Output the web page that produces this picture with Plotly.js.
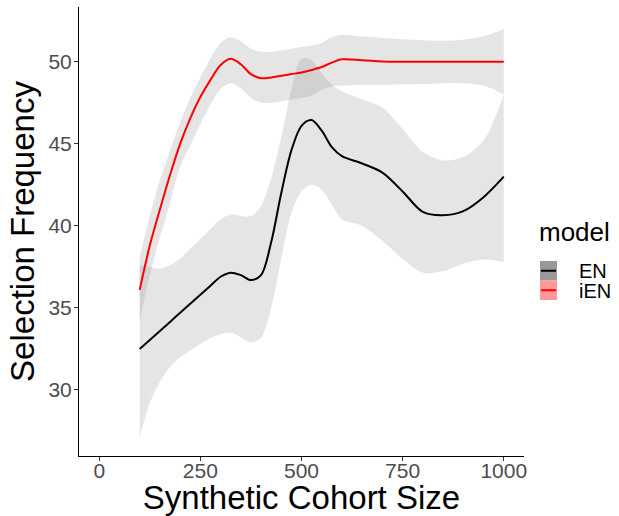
<!DOCTYPE html>
<html>
<head>
<meta charset="utf-8">
<script src="https://cdn.plot.ly/plotly-3.0.1.min.js"></script>
<style>
  html, body { margin: 0; padding: 0; background: #fff; }
  #chart { width: 619px; height: 516px; }
</style>
</head>
<body>
<div id="chart"></div>
<script>
// Synthetic cohort sizes at which the smoothed fits are evaluated
const cohortSize = [100, 125, 150, 175, 200, 225, 250, 275, 300, 325, 350, 375, 400, 425, 450,
                    475, 500, 525, 550, 575, 600, 650, 700, 750, 800, 850, 900, 950, 1000];

// EN: smoothed selection frequency with confidence band
const enFit = [32.5, 33.05, 33.6, 34.15, 34.7, 35.25, 35.8, 36.35, 36.9, 37.15, 37.0, 36.7, 37.0, 39.0, 42.0,
               44.6, 46.1, 46.45, 45.8, 44.8, 44.25, 43.8, 43.25, 42.1, 40.85, 40.65, 40.9, 41.75, 43.0];
const enUpper = [37.6, 37.5, 37.4, 37.6, 38.0, 38.6, 39.2, 39.8, 40.4, 40.7, 40.6, 40.6, 41.2, 42.9, 45.4,
                 48.3, 50.2, 50.1, 49.3, 48.6, 48.2, 47.7, 47.2, 45.9, 44.5, 44.0, 44.2, 45.2, 48.0];
const enLower = [27.15, 29.2, 30.5, 31.4, 32.0, 32.4, 32.8, 33.15, 33.4, 33.5, 33.2, 32.9, 33.2, 35.0, 38.0,
                 40.8, 42.1, 42.5, 42.2, 41.3, 40.4, 40.0, 39.1, 38.0, 37.15, 37.25, 37.7, 37.95, 37.8];

// iEN: smoothed selection frequency with confidence band
const ienFit = [36.1, 38.8, 41.0, 43.1, 45.0, 46.55, 47.85, 48.9, 49.8, 50.18, 49.85, 49.25, 49.0, 49.05, 49.15,
                49.25, 49.35, 49.5, 49.68, 49.95, 50.15, 50.1, 50.02, 50.0, 50.0, 50.0, 50.0, 50.0, 50.0];
const ienUpper = [38.1, 40.6, 42.8, 44.6, 46.3, 47.8, 49.05, 50.2, 51.15, 51.5, 51.25, 50.8, 50.6, 50.6, 50.7,
                  50.8, 50.9, 51.0, 51.15, 51.5, 51.65, 51.55, 51.45, 51.38, 51.32, 51.28, 51.35, 51.55, 52.0];
const ienLower = [34.2, 37.0, 39.3, 41.4, 43.6, 44.9, 46.2, 47.4, 48.35, 48.7, 48.4, 47.8, 47.5, 47.5, 47.6,
                  47.7, 47.8, 47.95, 48.3, 48.5, 48.55, 48.6, 48.6, 48.63, 48.65, 48.7, 48.7, 48.55, 48.0];

const models = ['EN', 'iEN'];
const modelColors = ['#000000', '#ff0000'];
const keyFills = ['rgb(153,153,153)', 'rgb(255,153,153)'];

const xTicks = [0, 250, 500, 750, 1000];
const yTicks = [30, 35, 40, 45, 50];

const FONT = 'Liberation Sans, Arial, Helvetica, sans-serif';
const bandFill = 'rgba(153,153,153,0.25)';
const smooth = { shape: 'spline', smoothing: 0.9 };

function band(lower, upper) {
  return [
    { x: cohortSize, y: lower, type: 'scatter', mode: 'lines',
      line: Object.assign({ width: 0, color: 'rgba(0,0,0,0)' }, smooth),
      hoverinfo: 'skip', showlegend: false },
    { x: cohortSize, y: upper, type: 'scatter', mode: 'lines',
      line: Object.assign({ width: 0, color: 'rgba(0,0,0,0)' }, smooth),
      fill: 'tonexty', fillcolor: bandFill, hoverinfo: 'skip', showlegend: false }
  ];
}

function fitLine(y, i) {
  return { x: cohortSize, y: y, type: 'scatter', mode: 'lines', name: models[i],
           line: Object.assign({ width: 2, color: modelColors[i] }, smooth), showlegend: false };
}

const traces = [].concat(
  band(enLower, enUpper), [fitLine(enFit, 0)],
  band(ienLower, ienUpper), [fitLine(ienFit, 1)]
);

// plot area geometry (pixels) used to place the hand-built legend
const M = { l: 79, r: 95, t: 7, b: 60 };
const W = 619, H = 516;
const pw = W - M.l - M.r, ph = H - M.t - M.b;
const px = v => (v - M.l) / pw;
const py = v => (H - M.b - v) / ph;

const shapes = [];
const annotations = [];

annotations.push({ xref: 'paper', yref: 'paper', x: px(537), y: py(232), xanchor: 'left', yanchor: 'middle',
                   text: 'model', showarrow: false, font: { family: FONT, size: 26, color: '#000' } });

models.forEach((m, i) => {
  const top = 261 + i * 19.5;
  shapes.push({ type: 'rect', xref: 'paper', yref: 'paper', x0: px(540), x1: px(557),
                y0: py(top + 19.5), y1: py(top), fillcolor: keyFills[i], line: { width: 0 } });
  shapes.push({ type: 'line', xref: 'paper', yref: 'paper', x0: px(541), x1: px(556),
                y0: py(top + 9.75), y1: py(top + 9.75), line: { color: modelColors[i], width: 2 } });
  annotations.push({ xref: 'paper', yref: 'paper', x: px(577), y: py(top + 10), xanchor: 'left', yanchor: 'middle',
                     text: m, showarrow: false, font: { family: FONT, size: 20, color: '#000' } });
});

const layout = {
  width: W, height: H,
  margin: M,
  paper_bgcolor: '#ffffff', plot_bgcolor: '#ffffff',
  font: { family: FONT },
  showlegend: false,
  xaxis: {
    range: [-50, 1050], tickvals: xTicks, ticktext: xTicks.map(String),
    showgrid: false, zeroline: false, showline: true, linecolor: '#000', linewidth: 1,
    ticks: 'outside', ticklen: 4, tickwidth: 1, tickcolor: '#333',
    ticklabelstandoff: -8,
    tickfont: { family: FONT, size: 21, color: '#4d4d4d' },
    title: { text: 'Synthetic Cohort Size', font: { family: FONT, size: 33, color: '#000' }, standoff: 0 },
    automargin: false
  },
  yaxis: {
    range: [25.976, 53.34], tickvals: yTicks, ticktext: yTicks.map(String),
    showgrid: false, zeroline: false, showline: true, linecolor: '#000', linewidth: 1,
    ticks: 'outside', ticklen: 4, tickwidth: 1, tickcolor: '#333',
    ticklabelstandoff: -2,
    tickfont: { family: FONT, size: 21, color: '#4d4d4d' },
    title: { text: 'Selection Frequency', font: { family: FONT, size: 33, color: '#000' }, standoff: 3 },
    automargin: false
  },
  shapes: shapes,
  annotations: annotations
};

Plotly.newPlot('chart', traces, layout, { displayModeBar: false, staticPlot: true });
</script>
</body>
</html>
